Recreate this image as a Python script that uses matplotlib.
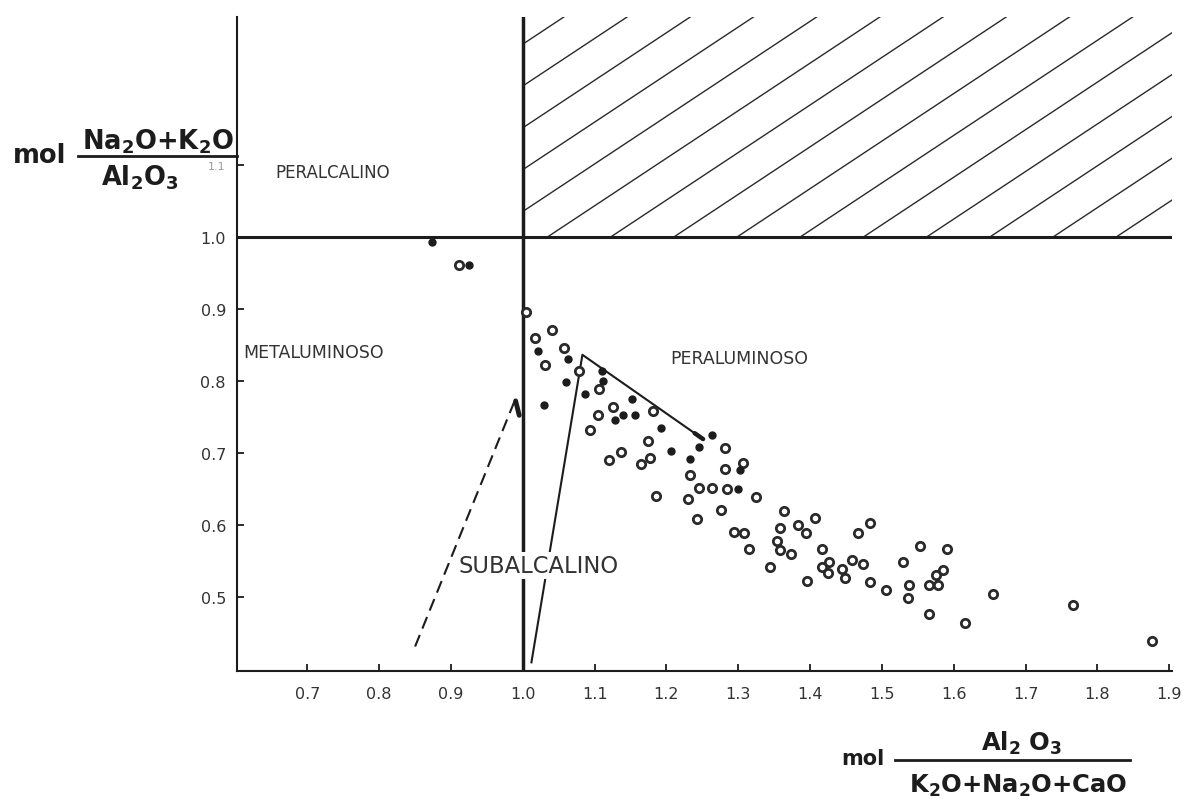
import numpy as np
import matplotlib
matplotlib.use("Agg")
import matplotlib.pyplot as plt
from matplotlib.lines import Line2D
from matplotlib.patches import Rectangle

INK = "#1c1c1c"
SOFT = "#333333"

# samples: open circles and filled dots (A/CNK vs NK/A, molar)
open_x = [0.911, 1.004, 1.040, 1.017, 1.058, 1.031, 1.078, 1.106, 1.125, 1.105,
          1.181, 1.093, 1.175, 1.137, 1.120, 1.165, 1.177, 1.233, 1.186, 1.230,
          1.282, 1.307, 1.281, 1.245, 1.263, 1.284, 1.325, 1.276, 1.243, 1.364,
          1.294, 1.308, 1.315, 1.358, 1.383, 1.395, 1.354, 1.358, 1.374, 1.407,
          1.483, 1.467, 1.416, 1.344, 1.427, 1.416, 1.425, 1.444, 1.448, 1.459,
          1.474, 1.396, 1.483, 1.553, 1.591, 1.530, 1.506, 1.538, 1.536, 1.585,
          1.575, 1.565, 1.578, 1.565, 1.616, 1.655, 1.766, 1.876]
open_y = [0.960, 0.896, 0.871, 0.860, 0.845, 0.822, 0.813, 0.789, 0.764, 0.752,
          0.758, 0.731, 0.717, 0.701, 0.690, 0.684, 0.693, 0.669, 0.640, 0.636,
          0.707, 0.686, 0.677, 0.651, 0.651, 0.650, 0.638, 0.620, 0.608, 0.619,
          0.590, 0.589, 0.567, 0.596, 0.600, 0.588, 0.578, 0.565, 0.560, 0.610,
          0.603, 0.589, 0.566, 0.541, 0.549, 0.542, 0.533, 0.538, 0.526, 0.551,
          0.546, 0.522, 0.520, 0.571, 0.566, 0.548, 0.510, 0.516, 0.499, 0.537,
          0.530, 0.517, 0.516, 0.476, 0.463, 0.504, 0.489, 0.439]

filled_x = [0.874, 0.925, 1.021, 1.063, 1.060, 1.110, 1.111, 1.087, 1.029, 1.152,
            1.139, 1.156, 1.128, 1.193, 1.207, 1.233, 1.263, 1.245, 1.303, 1.299]
filled_y = [0.992, 0.960, 0.841, 0.830, 0.798, 0.813, 0.800, 0.781, 0.766, 0.774,
            0.753, 0.752, 0.745, 0.734, 0.702, 0.692, 0.725, 0.708, 0.676, 0.650]

# outline of the sampled field and the dashed trend towards it
field_x = [1.012, 1.083, 1.251]
field_y = [0.409, 0.836, 0.719]
dash_x = [0.850, 0.989]
dash_y = [0.431, 0.773]
dash_tip_x = [0.990, 0.995]
dash_tip_y = [0.772, 0.752]

x_ticks = [0.7, 0.8, 0.9, 1.0, 1.1, 1.2, 1.3, 1.4, 1.5, 1.6, 1.7, 1.8, 1.9]
x_labels = ["0.7", "0.8", "0.9", "1.0", "1.1", "1.2", "1.3", "1.4", "1.5",
            "1.6", "1.7", "1.8", "1.9"]
y_ticks = [0.5, 0.6, 0.7, 0.8, 0.9, 1.0, 1.1]
y_labels = ["0.5", "0.6", "0.7", "0.8", "0.9", "1.0", "1.1"]

region_names = ["PERALCALINO", "METALUMINOSO", "PERALUMINOSO", "SUBALCALINO"]
region_x = [0.656, 0.611, 1.205, 0.911]
region_y = [1.083, 0.833, 0.824, 0.535]
region_size = [12, 12.5, 12.5, 16.3]

XLIM = (0.602, 1.904)
YLIM = (0.397, 1.305)
W, H = 1193, 803


def fpos(px, py):
    """pixel position (from top-left) -> figure fraction"""
    return px / W, 1 - py / H


def frac_label(fig, mol_xy, mol_size, num, num_xy, den, den_xy, size, bar):
    fig.text(*fpos(*mol_xy), "mol", fontsize=mol_size, fontweight="bold",
             color=INK, ha="center", va="baseline")
    fig.text(*fpos(*num_xy), num, fontsize=size, color=INK, ha="center", va="baseline")
    fig.text(*fpos(*den_xy), den, fontsize=size, color=INK, ha="center", va="baseline")
    x0, y0 = fpos(bar[0], bar[2])
    x1, _ = fpos(bar[1], bar[2])
    fig.add_artist(Line2D([x0, x1], [y0, y0], transform=fig.transFigure, color=INK, lw=2.0))


def main():
    fig = plt.figure(figsize=(W / 100, H / 100), dpi=100)
    ax = fig.add_axes([237 / W, 1 - 672 / H, (1172 - 237) / W, (672 - 18) / H])

    for s in ("top", "right"):
        ax.spines[s].set_visible(False)
    for s in ("left", "bottom"):
        ax.spines[s].set_linewidth(1.5)
        ax.spines[s].set_color(INK)

    ax.set_xticks(x_ticks)
    ax.set_xticklabels(x_labels)
    ax.set_yticks(y_ticks)
    ax.set_yticklabels(y_labels)
    ax.tick_params(direction="in", length=5, width=1.3, color=INK,
                   labelcolor=SOFT, labelsize=11.5)
    ax.tick_params(axis="x", pad=11)
    ax.tick_params(axis="y", pad=8)
    top_lab = ax.get_yticklabels()[-1]
    top_lab.set_fontsize(8)
    top_lab.set_color("#9a9a9a")

    # field boundaries
    ax.axhline(1.0, color=INK, lw=2.2, zorder=3)
    ax.axvline(1.0, color=INK, lw=2.5, zorder=3)

    # hatched corner (peralkaline + peraluminous: not allowed)
    clip = Rectangle((1.0, 1.0), XLIM[1] - 1.0, YLIM[1] - 1.0,
                     transform=ax.transData, visible=False)
    ax.add_patch(clip)
    slope, step = 0.66, 0.088
    xs = np.array([1.0, XLIM[1]])
    for x0 in np.arange(1.035 - 7 * step, XLIM[1], step):
        ln, = ax.plot(xs, 1.0 + slope * (xs - x0), color="#2a2a2a", lw=1.0, zorder=2)
        ln.set_clip_path(clip)

    # guide lines
    ax.plot(field_x, field_y, color=INK, lw=1.5, zorder=3)
    ax.plot(dash_x, dash_y, color=INK, lw=1.5, dashes=(6, 3.3), zorder=3)
    ax.plot(dash_tip_x, dash_tip_y, color=INK, lw=3.5, solid_capstyle="round", zorder=3)
    t = 0.93
    ax.plot([field_x[1] + t * (field_x[2] - field_x[1]), field_x[2]],
            [field_y[1] + t * (field_y[2] - field_y[1]), field_y[2]],
            color=INK, lw=3.2, solid_capstyle="round", zorder=3)

    # samples
    ax.plot(open_x, open_y, "o", ms=6, mfc="white", mec="#2a2a2a", mew=2.0, zorder=4)
    ax.plot(filled_x, filled_y, "o", ms=5, color=INK, mec=INK, zorder=4)

    for name, x, y, fs in zip(region_names, region_x, region_y, region_size):
        kw = {}
        if name == "SUBALCALINO":
            kw["bbox"] = dict(facecolor="white", edgecolor="none", pad=1.5)
        ax.text(x, y, name, fontsize=fs, color=SOFT, ha="left", va="baseline",
                zorder=5, **kw)

    ax.set_xlim(*XLIM)
    ax.set_ylim(*YLIM)

    # axis titles as molar ratios
    frac_label(fig, (40, 163), 18.5, r"$\mathbf{Na_2O{+}K_2O}$", (158, 150),
               r"$\mathbf{Al_2O_3}$", (140, 186), 18.5, (78, 237, 157))
    frac_label(fig, (863, 765), 15, r"$\mathbf{Al_2\ O_3}$", (1022, 751),
               r"$\mathbf{K_2O{+}Na_2O{+}CaO}$", (1018, 793), 17.5, (895, 1130, 761))

    fig.savefig("out.png", dpi=100, facecolor="white")
    plt.close(fig)


if __name__ == "__main__":
    main()
